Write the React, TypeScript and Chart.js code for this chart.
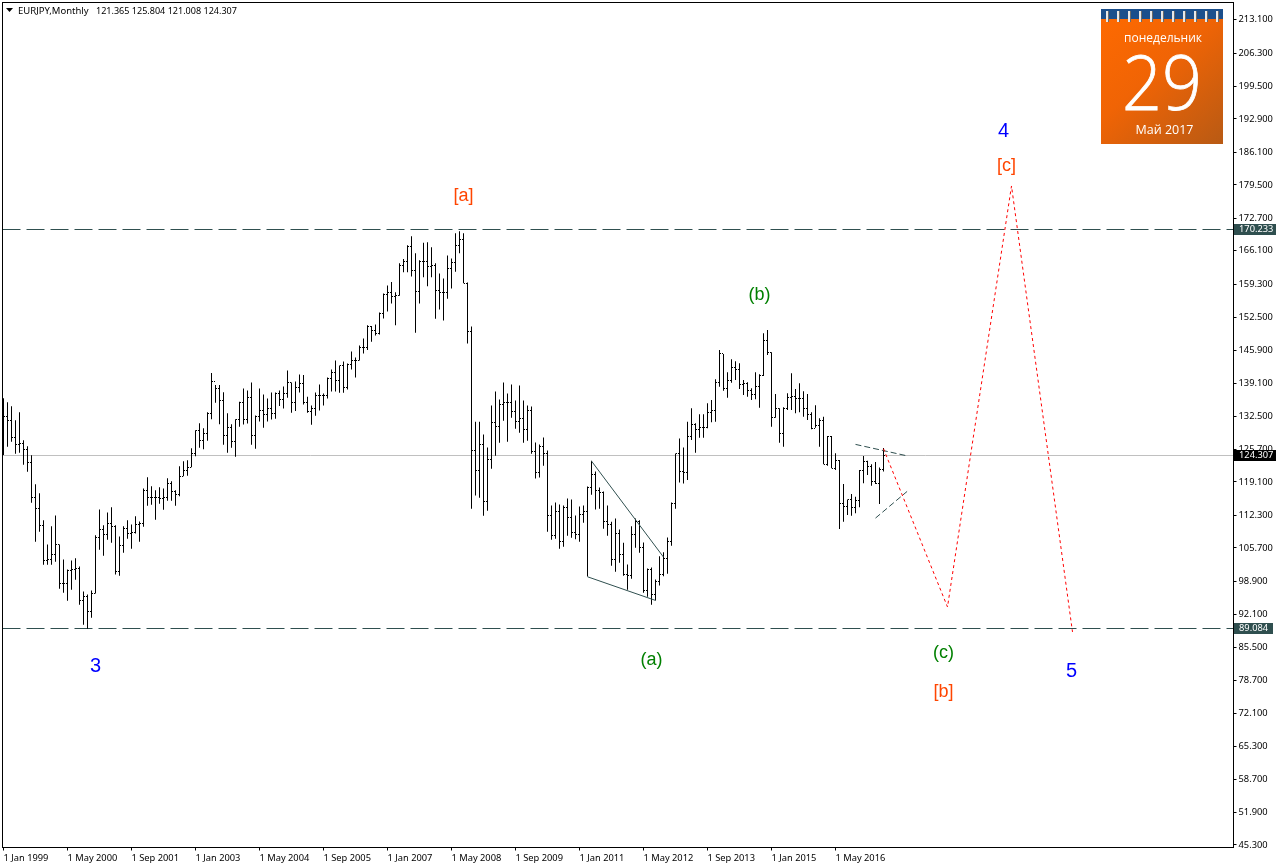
import React, { useEffect, useRef } from "react";
import { Chart, registerables } from "chart.js";

Chart.register(...registerables);

const highs = [
  135.91,135.1,134.28,131.44,133.06,127.37,126.15,124.32,118.42,116.59,111.1,106.21,109.88,112.11,106.21,103.16,101.13,102.96,103.37,101.74,
  96.65,96.04,96.86,108.05,113.33,110.08,112.72,113.74,110.08,107.84,109.88,111.1,110.28,111.91,110.89,117.6,119.84,118.01,117.2,117.81,
  117.6,119.64,119.03,117.2,122.08,123.1,123.3,125.74,129.4,130.83,129.81,133.06,141.06,138.62,138.62,137.13,132.86,130.62,131.64,135.21,
  137.92,137.51,139.14,132.43,137.92,136.7,135.89,137.11,137.11,137.51,138.33,141.58,139.14,139.34,140.77,140.63,136.23,134.46,137.11,138.73,
  136.9,140.16,141.79,143.62,142.6,143.41,143.01,145.45,144.23,146.67,148.09,150.74,150.6,150.94,153.38,157.24,158.87,159.55,157.45,163.35,
  164.23,167.01,168.84,165.38,163.96,167.55,167.62,166.6,163.35,161.31,160.29,164.97,164.36,169.45,169.85,169.45,159.48,150.53,131.14,131.14,
  128.56,125.92,134.46,137.31,135.68,139.14,136.9,138.73,135.48,138.53,135.48,134.46,134.26,126.94,126.53,127.95,125.31,114.12,114.73,114.33,
  114.12,115.55,115.34,112.09,113.92,114.12,117.99,123.21,121.04,117.78,116.97,114.12,110.8,111.48,109.24,106.53,102.12,109.92,111.48,111.14,
  106.6,101.31,101.51,99.07,103.82,104.63,107.61,114.73,124.7,127.75,125.92,131.14,133.87,130.82,132.65,132.65,134.89,135.57,139.77,145.74,
  144.92,141.2,143.84,143.43,143.03,139.64,139.16,137.94,141.2,140.79,149.13,149.81,145.26,136.79,133.87,134.08,136.92,140.99,137.81,138.96,
  137.33,136.79,133.06,134.48,131.84,132.18,128.25,128.25,124.72,123.36,118.48,115.36,116.45,115.91,121.33,124.18,123.23,122.48,122.96,121.87,
  125.804,
];

const lows = [
  124.38,126.08,127.1,124.66,124.86,122.42,120.99,114.69,106.76,108.79,102.08,102.08,102.08,102.69,97.2,96.38,94.76,96.99,99.03,93.94,
  89.87,89.08,91.3,96.25,105.13,103.91,107.16,106.55,100.11,99.84,104.52,107.37,105.33,108.45,106.76,109.81,114.08,114.28,111.23,114.49,
  113.27,115.1,115.1,114.08,115.98,120.05,120.18,121.88,124.11,125.88,125.54,127.3,131.64,135.03,130.62,126.48,124.86,125.88,124.05,130.12,
  130.6,130.8,126.46,125.65,131.21,129.92,131.21,131.62,131.75,134.33,133.85,136.02,132.97,133.31,137.11,134.67,132.97,130.53,132.36,133.45,
  134.46,135.89,137.31,137.31,137.04,137.04,137.72,141.79,140.16,143.62,145.04,145.72,147.41,148.7,148.9,152.16,153.58,155.21,150.74,156.77,
  161.52,161.52,160.7,149.24,155.21,160.5,158.67,160.5,152.09,153.99,151.75,156.16,158.26,161.65,165.38,159.28,147.07,113.45,116.16,115.68,
  112.02,113.04,121.58,124.23,126.87,131.34,127.07,131.95,129.72,128.9,126.87,127.28,124.63,119.61,119.82,122.19,108.77,107.14,107.34,105.31,
  105.72,107.95,107.55,107.28,106.73,110.6,99.68,116.29,113.31,113.45,109.38,107.95,101.85,100.63,102.46,99.82,96.97,99.21,105.51,104.5,
  96.36,95.55,93.92,94.8,97.85,99.75,100.22,105.92,113.45,118.8,118.6,119.28,127.43,124.86,127.91,127.91,129.8,131.03,131.16,138.28,
  137.47,136.04,139.09,139.64,137.81,136.6,136.24,135.57,135.7,134.01,140.45,144.72,130.14,131.97,126.89,126.08,133.53,133.53,132.86,133.06,
  132.18,131.5,129.6,129.94,126.08,122.48,122.21,121.67,121.33,109.33,110.82,112.18,112.04,112.52,113.74,118.62,120.31,118.14,118.48,114.41,
  121.008,
];

const closes = [
  132.18,131.3,127.91,126.42,126.76,125.47,122.89,115.77,113.54,110.01,102.96,103.16,104.18,106.21,98.28,98.28,100.99,101.13,101.33,94.82,
  95.64,92.52,96.25,107.64,109.27,108.25,110.49,109.88,100.72,106.01,109.47,108.45,108.66,110.28,110.49,117.2,115.77,115.77,115.77,115.57,
  115.77,118.62,116.99,116.38,120.05,121.27,121.88,124.59,129.4,127.37,128.79,132.86,139.3,137.94,135.5,128.39,130.01,127.16,131.64,135.07,
  131.62,136.09,128.36,132.23,133.45,132.63,133.85,132.84,136.9,135.68,136.9,139.14,135.07,138.12,138.94,135.01,133.24,133.85,136.5,136.5,
  136.5,139.89,141.18,139.48,142.53,138.12,142.8,143.62,143.68,146.26,146.26,150.53,149.72,149.11,153.18,157.04,157.45,156.63,156.84,162.94,
  163.75,166.8,161.92,157.65,163.75,163.75,162.67,162.94,157.85,157.45,157.45,162.33,163.55,167.01,168.23,159.28,149.51,125.31,121.24,126.53,
  114.94,123.48,131.01,130.19,134.67,135.01,135.07,133.24,131.21,131.82,129.58,133.45,125.04,120.84,126.12,124.7,112.09,108.02,112.9,106.8,
  113.72,111.68,108.63,108.22,112.29,112.9,117.78,120.43,117.17,116.77,110.8,110.26,103.21,108.43,104.16,100.09,99.82,108.22,110.8,105.51,
  96.83,101.11,96.02,98.73,100.09,103.34,106.87,114.53,124.7,121.04,120.84,128.16,130.62,129.47,129.94,129.94,132.99,133.53,139.16,145.06,
  137.81,139.5,142.21,141.81,138.82,138.96,137.47,136.72,138.35,140.59,147.7,145.13,131.97,133.87,128.79,133.87,136.11,136.31,135.91,135.91,
  133.87,132.72,129.8,130.48,131.5,122.55,128.11,121.67,123.36,114.55,113.87,115.36,113.74,115.23,121.33,123.02,122.01,118.96,118.62,121.47,
  124.307,
];

const opens = [
  132.3,132.18,131.3,127.91,126.42,126.76,125.47,122.89,115.77,113.54,110.01,102.96,103.16,104.18,106.21,98.28,98.28,100.99,101.13,101.33,
  94.82,95.64,92.52,96.25,107.64,109.27,108.25,110.49,109.88,100.72,106.01,109.47,108.45,108.66,110.28,110.49,117.2,115.77,115.77,115.77,
  115.57,115.77,118.62,116.99,116.38,120.05,121.27,121.88,124.59,129.4,127.37,128.79,132.86,139.3,137.94,135.5,128.39,130.01,127.16,131.64,
  135.07,131.62,136.09,128.36,132.23,133.45,132.63,133.85,132.84,136.9,135.68,136.9,139.14,135.07,138.12,138.94,135.01,133.24,133.85,136.5,
  136.5,136.5,139.89,141.18,139.48,142.53,138.12,142.8,143.62,143.68,146.26,146.26,150.53,149.72,149.11,153.18,157.04,157.45,156.63,156.84,
  162.94,163.75,166.8,161.92,157.65,163.75,163.75,162.67,162.94,157.85,157.45,157.45,162.33,163.55,167.01,168.23,159.28,149.51,125.31,121.24,
  126.53,114.94,123.48,131.01,130.19,134.67,135.01,135.07,133.24,131.21,131.82,129.58,133.45,125.04,120.84,126.12,124.7,112.09,108.02,112.9,
  106.8,113.72,111.68,108.63,108.22,112.29,112.9,117.78,120.43,117.17,116.77,110.8,110.26,103.21,108.43,104.16,100.09,99.82,108.22,110.8,
  105.51,96.83,101.11,96.02,98.73,100.09,103.34,106.87,114.53,124.7,121.04,120.84,128.16,130.62,129.47,129.94,129.94,132.99,133.53,139.16,
  145.06,137.81,139.5,142.21,141.81,138.82,138.96,137.47,136.72,138.35,140.59,147.7,145.13,131.97,133.87,128.79,133.87,136.11,136.31,135.91,
  135.91,133.87,132.72,129.8,130.48,131.5,122.55,128.11,121.67,123.36,114.55,113.87,115.36,113.74,115.23,121.33,123.02,122.01,118.96,118.62,
  121.365,
];

const xTickIndexes = [0, 16, 32, 48, 64, 80, 96, 112, 128, 144, 160, 176, 192, 208];
const xTickLabels = [
  "1 Jan 1999", "1 May 2000", "1 Sep 2001", "1 Jan 2003", "1 May 2004", "1 Sep 2005", "1 Jan 2007",
  "1 May 2008", "1 Sep 2009", "1 Jan 2011", "1 May 2012", "1 Sep 2013", "1 Jan 2015", "1 May 2016",
];
const yTickValues = [
  213.1, 206.3, 199.5, 192.9, 186.1, 179.5, 172.7, 166.1, 159.3, 152.5, 145.9, 139.1, 132.5,
  125.7, 119.1, 112.3, 105.7, 98.9, 92.1, 85.5, 78.7, 72.1, 65.3, 58.7, 51.9, 45.3,
];
// The platform rounds its grid labels, so each tick mark sits slightly under its printed price.
const Y_TICK_ROUNDING = 0.2;

const resistanceLevel = 170.233;
const supportLevel = 89.084;
const lastClose = 124.307;

const wedgeUpper = [{ x: 147, y: 123.15 }, { x: 165, y: 103.63 }];
const wedgeLower = [{ x: 146, y: 99.63 }, { x: 163, y: 94.82 }];
const triangleUpper = [{ x: 213, y: 126.54 }, { x: 225.75, y: 124.24 }];
const triangleLower = [{ x: 218, y: 111.56 }, { x: 225.9, y: 116.98 }];
const forecastPath = [
  { x: 220, y: 125.66 },
  { x: 236, y: 93.49 },
  { x: 252, y: 179.08 },
  { x: 267.25, y: 88.41 },
];

const waveLabels = [
  { text: "[a]", x: 115, y: 177.05, color: "#FF4500", size: 18 },
  { text: "(b)", x: 189, y: 156.92, color: "#008000", size: 18 },
  { text: "(a)", x: 162, y: 82.7, color: "#008000", size: 18 },
  { text: "(c)", x: 235, y: 84.14, color: "#008000", size: 18 },
  { text: "[b]", x: 235, y: 76.2, color: "#FF4500", size: 18 },
  { text: "[c]", x: 250.75, y: 183.15, color: "#FF4500", size: 18 },
  { text: "4", x: 250, y: 190.25, color: "#0000FF", size: 20 },
  { text: "3", x: 23, y: 81.4, color: "#0000FF", size: 20 },
  { text: "5", x: 267, y: 80.38, color: "#0000FF", size: 20 },
];

const AXIS_FONT = '"Noto Sans", "Liberation Sans", sans-serif';
const SLATE = "#2F4F4F";

const chartDecor = {
  id: "chartDecor",
  beforeDatasetsDraw(chart: any) {
    const { ctx, chartArea: a, scales } = chart;
    const y = scales.y;
    const snap = (v: number) => Math.floor(y.getPixelForValue(v)) + 0.5;
    ctx.save();
    ctx.lineWidth = 1;
    ctx.strokeStyle = "#C0C0C0";
    ctx.beginPath();
    ctx.moveTo(a.left, snap(lastClose));
    ctx.lineTo(a.right, snap(lastClose));
    ctx.stroke();
    ctx.strokeStyle = SLATE;
    ctx.setLineDash([18, 6]);
    for (const lvl of [resistanceLevel, supportLevel]) {
      ctx.beginPath();
      ctx.moveTo(a.left, snap(lvl));
      ctx.lineTo(a.right, snap(lvl));
      ctx.stroke();
    }
    ctx.restore();
  },
  afterDatasetsDraw(chart: any) {
    const { ctx, scales } = chart;
    ctx.save();
    ctx.fillStyle = "#000";
    chart.data.datasets.forEach((ds: any, di: number) => {
      if (ds.label !== "Open" && ds.label !== "Close") return;
      const dir = ds.label === "Open" ? -1 : 1;
      chart.getDatasetMeta(di).data.forEach((pt: any) => {
        ctx.fillRect(Math.floor(pt.x) + dir, Math.floor(pt.y), 1, 1);
      });
    });
    ctx.textAlign = "center";
    ctx.textBaseline = "middle";
    for (const l of waveLabels) {
      ctx.font = `${l.size}px "Liberation Sans", Arial, sans-serif`;
      ctx.fillStyle = l.color;
      ctx.fillText(l.text, scales.x.getPixelForValue(l.x), scales.y.getPixelForValue(l.y));
    }
    ctx.restore();
  },
  afterDraw(chart: any) {
    const { ctx, chartArea: a, scales } = chart;
    const y = scales.y;
    ctx.save();
    // frame
    ctx.strokeStyle = "#000";
    ctx.lineWidth = 1;
    ctx.strokeRect(a.left, a.top, a.right - a.left, a.bottom - a.top);

    // price tags on the axis
    ctx.font = `9.3px ${AXIS_FONT}`;
    ctx.textAlign = "left";
    ctx.textBaseline = "middle";
    const tags = [
      { v: resistanceLevel, bg: SLATE },
      { v: supportLevel, bg: SLATE },
      { v: lastClose, bg: "#000000" },
    ];
    for (const t of tags) {
      const py = Math.floor(y.getPixelForValue(t.v));
      const label = t.v.toFixed(3);
      ctx.fillStyle = t.bg;
      ctx.fillRect(1234, py - 5, Math.ceil(ctx.measureText(label).width) + 9, 11);
      ctx.fillStyle = "#FFFFFF";
      ctx.fillText(label, 1239, py + 0.5);
    }

    // symbol header
    ctx.fillStyle = "#000";
    ctx.beginPath();
    ctx.moveTo(6, 8);
    ctx.lineTo(13, 8);
    ctx.lineTo(9.5, 12);
    ctx.closePath();
    ctx.fill();
    ctx.font = `9.5px ${AXIS_FONT}`;
    ctx.fillText("EURJPY,Monthly", 18, 11);
    ctx.font = `9.05px ${AXIS_FONT}`;
    ctx.fillText("121.365 125.804 121.008 124.307", 96, 11);

    // calendar widget
    const cx = 1101, cy = 9, cw = 122, ch = 135;
    const g = ctx.createLinearGradient(cx, cy, cx + cw, cy + ch);
    g.addColorStop(0, "#FF6A00");
    g.addColorStop(0.45, "#F06405");
    g.addColorStop(1, "#B85A14");
    ctx.fillStyle = g;
    ctx.fillRect(cx, cy, cw, ch);
    ctx.fillStyle = "#1B4F8C";
    ctx.fillRect(cx, cy, cw, 10);
    for (let k = 0; k < 11; k++) {
      const rx = cx + 5 + k * 11;
      ctx.fillStyle = "#E8E8E8";
      ctx.fillRect(rx, cy + 2, 2, 11);
      ctx.fillStyle = "#6A6A6A";
      ctx.fillRect(rx + 2, cy + 2, 1, 11);
    }
    ctx.fillStyle = "#FFFFFF";
    ctx.textAlign = "center";
    ctx.font = '12px "Open Sans", sans-serif';
    ctx.fillText("понедельник", 1163, 39);
    ctx.save();
    ctx.translate(1162, 88);
    ctx.scale(0.92, 1);
    ctx.font = '300 76px "Open Sans", "Lato", sans-serif';
    ctx.strokeStyle = "#FFFFFF";
    ctx.lineWidth = 0.8;
    ctx.fillText("29", 0, 0);
    ctx.strokeText("29", 0, 0);
    ctx.restore();
    ctx.font = '12.5px "Open Sans", sans-serif';
    ctx.fillText("Май 2017", 1164.5, 130);
    ctx.restore();
  },
};

export default function App() {
  const ref = useRef<HTMLCanvasElement>(null);

  useEffect(() => {
    if (!ref.current) return;
    const chart = new Chart(ref.current, {
      type: "bar",
      data: {
        datasets: [
          {
            type: "bar",
            label: "High-Low",
            data: highs.map((h, i) => ({ x: i, y: [lows[i], h] })),
            backgroundColor: "#000000",
            borderWidth: 0,
            barThickness: 1,
            inflateAmount: 0,
            order: 3,
          },
          {
            type: "line",
            label: "Open",
            data: opens.map((v, i) => ({ x: i, y: v })),
            showLine: false,
            pointRadius: 0,
            order: 3,
          },
          {
            type: "line",
            label: "Close",
            data: closes.map((v, i) => ({ x: i, y: v })),
            showLine: false,
            pointRadius: 0,
            order: 3,
          },
          {
            type: "line",
            label: "Wedge upper",
            data: wedgeUpper,
            borderColor: SLATE,
            borderWidth: 1,
            pointRadius: 0,
            order: 1,
          },
          {
            type: "line",
            label: "Wedge lower",
            data: wedgeLower,
            borderColor: SLATE,
            borderWidth: 1,
            pointRadius: 0,
            order: 1,
          },
          {
            type: "line",
            label: "Triangle upper",
            data: triangleUpper,
            borderColor: SLATE,
            borderWidth: 1,
            borderDash: [6, 3],
            pointRadius: 0,
            order: 1,
          },
          {
            type: "line",
            label: "Triangle lower",
            data: triangleLower,
            borderColor: SLATE,
            borderWidth: 1,
            borderDash: [6, 3],
            pointRadius: 0,
            order: 1,
          },
          {
            type: "line",
            label: "Forecast",
            data: forecastPath,
            borderColor: "#FF0000",
            borderWidth: 1,
            borderDash: [3, 3],
            pointRadius: 0,
            tension: 0,
            order: 0,
          },
        ],
      } as any,
      options: {
        responsive: false,
        animation: false,
        devicePixelRatio: 1,
        events: [],
        layout: { autoPadding: false, padding: { left: 2.5, top: 2.5, right: 0, bottom: 0 } },
        plugins: { legend: { display: false }, tooltip: { enabled: false } },
        scales: {
          x: {
            type: "linear",
            min: -0.25,
            max: 307.5,
            offset: false,
            border: { display: false },
            grid: { display: true, offset: false, drawOnChartArea: false, drawTicks: true, tickLength: 3, tickColor: "#000" },
            afterBuildTicks: (s: any) => {
              s.ticks = xTickIndexes.map((value) => ({ value }));
            },
            afterFit: (s: any) => {
              s.height = 20.5;
              s.paddingLeft = 0;
              s.paddingRight = 0;
              s.paddingTop = 0;
              s.paddingBottom = 0;
            },
            ticks: {
              autoSkip: false,
              maxRotation: 0,
              minRotation: 0,
              align: "start",
              padding: 2,
              color: "#000",
              font: { family: AXIS_FONT, size: 9.3 },
              callback: (v: any) => xTickLabels[xTickIndexes.indexOf(v)] ?? "",
            },
          },
          y: {
            type: "linear",
            position: "right",
            min: 44.59,
            max: 216.38,
            border: { display: false },
            grid: { display: true, drawOnChartArea: false, drawTicks: true, tickLength: 3, tickColor: "#000" },
            afterBuildTicks: (s: any) => {
              s.ticks = yTickValues.map((value) => ({ value: value - Y_TICK_ROUNDING }));
            },
            afterFit: (s: any) => {
              s.width = 42.5;
              s.paddingLeft = 0;
              s.paddingRight = 0;
              s.paddingTop = 0;
              s.paddingBottom = 0;
            },
            ticks: {
              autoSkip: false,
              padding: 2,
              color: "#000",
              font: { family: AXIS_FONT, size: 9.3 },
              callback: (v: any) => (Number(v) + Y_TICK_ROUNDING).toFixed(3),
            },
          },
        },
      } as any,
      plugins: [chartDecor],
    });
    return () => chart.destroy();
  }, []);

  return (
    <canvas
      ref={ref}
      width={1276}
      height={868}
      style={{ position: "absolute", left: 0, top: 0, display: "block", background: "#fff" }}
    />
  );
}
